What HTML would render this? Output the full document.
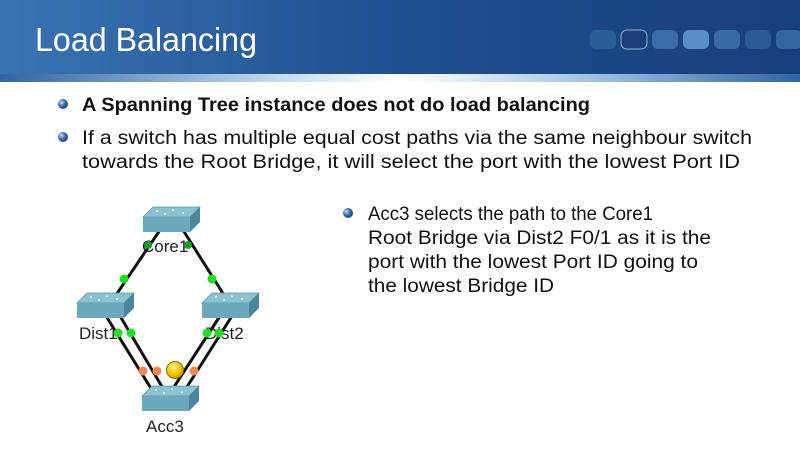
<!DOCTYPE html>
<html><head><meta charset="utf-8"><style>html,body{margin:0;padding:0;background:#fff}svg{display:block}</style></head>
<body>
<svg width="800" height="450" viewBox="0 0 800 450" xmlns="http://www.w3.org/2000/svg" font-family="Liberation Sans, sans-serif">
<defs>
<linearGradient id="hd" x1="0" y1="0" x2="1" y2="0"><stop offset="0" stop-color="#3a74b0"/><stop offset="0.5" stop-color="#1f4f8e"/><stop offset="1" stop-color="#173f7c"/></linearGradient>
<linearGradient id="band" x1="0" y1="0" x2="1" y2="0"><stop offset="0" stop-color="#2f64a3"/><stop offset="0.35" stop-color="#c6dbef"/><stop offset="0.5" stop-color="#ffffff"/><stop offset="0.75" stop-color="#9dbfe0"/><stop offset="1" stop-color="#2f64a3"/></linearGradient>
<radialGradient id="bl" cx="0.35" cy="0.35" r="0.7"><stop offset="0" stop-color="#cfe0f5"/><stop offset="0.5" stop-color="#3f6fb0"/><stop offset="1" stop-color="#1d3f75"/></radialGradient>
<radialGradient id="yl" cx="0.4" cy="0.35" r="0.7"><stop offset="0" stop-color="#fff090"/><stop offset="0.6" stop-color="#f7c200"/><stop offset="1" stop-color="#c08a00"/></radialGradient>
<g id="sw">
<polygon points="10,0 57,0 47,10 0,10" fill="#8cc3d3" stroke="#5e97a8" stroke-width="0.8"/>
<rect x="0" y="10" width="47" height="15" fill="#6ea8bb"/>
<polygon points="47,10 57,0 57,15 47,25" fill="#4c8699"/>
<circle cx="14" cy="4" r="0.9" fill="#fff"/><circle cx="30" cy="3" r="0.9" fill="#fff"/><circle cx="22" cy="7" r="0.9" fill="#fff"/><circle cx="40" cy="6" r="0.9" fill="#fff"/>
</g>
</defs>
<rect x="0" y="0" width="800" height="78" fill="url(#hd)"/>
<rect x="0" y="74" width="800" height="8" fill="url(#band)"/>
<text x="35" y="51" font-size="33" fill="#fff" textLength="222" lengthAdjust="spacingAndGlyphs">Load Balancing</text>
<g>
<rect x="590" y="30" width="26" height="19" rx="6" fill="#2d5d96"/>
<rect x="621" y="30" width="26" height="19" rx="6" fill="#1b3f77" stroke="#8fb0d6" stroke-width="1"/>
<rect x="652" y="30" width="26" height="19" rx="6" fill="#3a6ba6"/>
<rect x="683" y="30" width="26" height="19" rx="6" fill="#5a8ec6"/>
<rect x="714" y="30" width="26" height="19" rx="6" fill="#3a6aa5"/>
<rect x="745" y="30" width="26" height="19" rx="6" fill="#2b5a95"/>
<rect x="776" y="30" width="26" height="19" rx="6" fill="#35669f"/>
</g>
<circle cx="63" cy="104" r="5" fill="url(#bl)"/>
<circle cx="63" cy="137" r="5" fill="url(#bl)"/>
<circle cx="348" cy="213" r="5" fill="url(#bl)"/>
<g font-size="19" fill="#111">
<text x="82" y="111" font-weight="bold" textLength="508" lengthAdjust="spacingAndGlyphs">A Spanning Tree instance does not do load balancing</text>
<text x="82" y="144" textLength="670" lengthAdjust="spacingAndGlyphs">If a switch has multiple equal cost paths via the same neighbour switch</text>
<text x="82" y="168" textLength="658" lengthAdjust="spacingAndGlyphs">towards the Root Bridge, it will select the port with the lowest Port ID</text>
<text x="368" y="220" textLength="285" lengthAdjust="spacingAndGlyphs">Acc3 selects the path to the Core1</text>
<text x="368" y="244" textLength="343" lengthAdjust="spacingAndGlyphs">Root Bridge via Dist2 F0/1 as it is the</text>
<text x="368" y="268" textLength="330" lengthAdjust="spacingAndGlyphs">port with the lowest Port ID going to</text>
<text x="368" y="292" textLength="186" lengthAdjust="spacingAndGlyphs">the lowest Bridge ID</text>
</g>
<g stroke="#111" stroke-width="3">
<line x1="160" y1="230" x2="116" y2="295"/>
<line x1="183" y1="230" x2="224" y2="295"/>
<line x1="106" y1="316" x2="152" y2="390"/>
<line x1="120" y1="316" x2="164" y2="390"/>
<line x1="220" y1="316" x2="172" y2="390"/>
<line x1="232" y1="316" x2="185" y2="390"/>
</g>
<use href="#sw" x="143" y="207"/>
<use href="#sw" x="77" y="293"/>
<use href="#sw" x="202" y="293"/>
<use href="#sw" x="142" y="386"/>
<g font-size="17" fill="#222">
<text x="142" y="252">Core1</text>
<text x="79" y="339">Dist1</text>
<text x="205" y="339">Dist2</text>
<text x="146" y="432">Acc3</text>
</g>
<g fill="#1fe01f">
<circle cx="124" cy="279" r="4.5"/><circle cx="212" cy="279" r="4.5"/>
<circle cx="118" cy="333" r="4.5"/><circle cx="131" cy="333" r="4.5"/>
<circle cx="207" cy="333" r="4.5"/><circle cx="219" cy="333" r="4.5"/>
</g>
<g fill="#1a9a2a"><circle cx="148" cy="245" r="4"/><circle cx="188" cy="245" r="4"/></g>
<g fill="#f08a55"><circle cx="143" cy="371" r="4.5"/><circle cx="157" cy="371" r="4.5"/><circle cx="194" cy="371" r="4.5"/></g>
<circle cx="175" cy="370" r="8.5" fill="url(#yl)" stroke="#8a6a00" stroke-width="1"/>
</svg>
</body></html>
